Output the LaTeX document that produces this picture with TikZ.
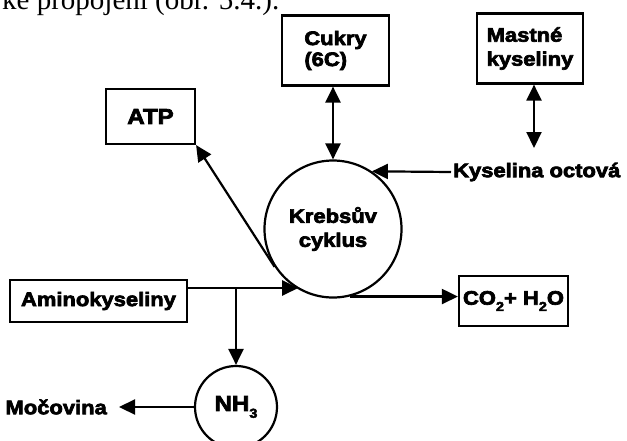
\documentclass[tikz,border=0pt]{standalone}
\usepackage{fontspec}
\setmainfont{Liberation Serif}
\newfontfamily\hv{Liberation Sans}[FakeStretch=1.12, BoldFeatures={FakeBold=3.5}]
\usetikzlibrary{arrows.meta,calc}
\newcommand\lowsub[1]{\raisebox{-0.32em}{\fontsize{13}{13}\selectfont #1}}
\begin{document}
\begin{tikzpicture}[x=1pt,y=-1pt,
  lw/.style={line width=2.2pt},
  lbl/.style={font=\hv\bfseries\fontsize{19.6}{24}\selectfont, inner sep=2pt},
  bigl/.style={font=\hv\bfseries\fontsize{21.5}{24}\selectfont, inner sep=2pt},
  boxn/.style={lbl, draw, lw, inner sep=0pt},
  ring/.style={draw, lw, circle, inner sep=0pt},
  arr/.style={lw, -{Triangle[length=16pt,width=15pt]}},
  darr/.style={lw, {Triangle[length=16pt,width=15pt]}-{Triangle[length=16pt,width=15pt]}}]
\useasboundingbox (0,0) rectangle (627,440);
\clip (0,0) rectangle (627,440);
% caption fragment at the top (cut off, as in the reference)
\node[anchor=base west, inner sep=0pt, font=\fontsize{29}{30}\selectfont] (cap) at (2,9) {ke propojení (obr. 5.4.).};
% boxes
\node[boxn, minimum width=107pt, minimum height=70pt, align=left, font=\hv\bfseries\fontsize{19.6}{21}\selectfont] (cukry) at (335.5,50.5) {Cukry\\(6C)};
\node[boxn, minimum width=106pt, minimum height=70pt, align=left] (mastne) at (530,48.5) {Mastné\\kyseliny};
\node[boxn, bigl, inner sep=0pt, draw, lw, minimum width=89pt, minimum height=55pt] (atp) at (150.5,116.5) {ATP};
\node[boxn, minimum width=177pt, minimum height=42pt] (amino) at (98.5,301) {Aminokyseliny};
\node[boxn, minimum width=109pt, minimum height=50pt] (co2) at (513.5,301) {CO\lowsub{2}+ H\lowsub{2}O};
% circles
\node[ring, lbl, draw, lw, inner sep=0pt, minimum size=137pt, align=center] (krebs) at (333,229) {Krebsův\\cyklus};
\node[ring, bigl, draw, lw, inner sep=0pt, minimum size=82pt] (nh3) at (236,407) {NH\lowsub{3}};
% free labels
\node[lbl, anchor=west] (kys) at (451,172) {Kyselina octová};
\node[lbl, anchor=east] (moc) at (109,407) {Močovina};
% connectors
\draw[darr] (krebs.north) -- (krebs.north |- cukry.south);
\coordinate (mend) at (534,148);
\draw[darr] (mastne.south -| mend) -- (mend);
\draw[arr] (kys.west) -- (krebs.56);
\draw[arr] (krebs.213.5) -- (atp.south east);
\coordinate (aout) at ([yshift=13pt]amino.east);
\draw[arr] (aout) -- (aout -| krebs.-120.5);
\coordinate (branch) at (aout -| nh3.north);
\draw[arr] (branch) -- (nh3.north);
\draw[arr] (krebs.-76) -- (krebs.-76 -| co2.west);
\draw[arr] (nh3.west) -- ([xshift=10pt]moc.east);
\end{tikzpicture}
\end{document}
